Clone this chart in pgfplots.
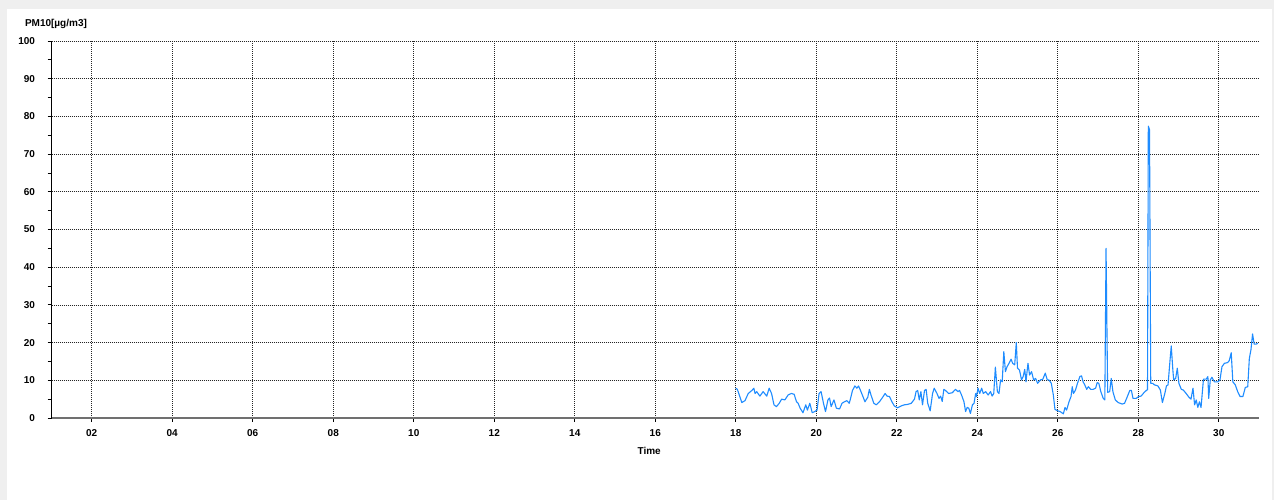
\documentclass[border=0pt]{standalone}
\usepackage{fontspec}
\setmainfont{Liberation Sans}
\usepackage{pgfplots}
\pgfplotsset{compat=1.18}
\definecolor{pmblue}{HTML}{1E8CFF}
\definecolor{axgray}{HTML}{707070}
\definecolor{bggray}{HTML}{EFEFEF}
\begin{document}
\begin{tikzpicture}[x=1pt,y=1pt]
\useasboundingbox (0,0) rectangle (1274,500);
\fill[bggray] (0,0) rectangle (1274,500);
\fill[white] (7,0) rectangle (1272,491);
\begin{axis}[
  at={(51.5pt,82pt)}, anchor=south west,
  scale only axis, width=1207.5pt, height=377pt,
  xmin=1, xmax=31, ymin=0, ymax=100,
  axis lines=left,
  axis line style={-},
  x axis line style={axgray, line width=2.6pt},
  y axis line style={black, line width=1pt},
  xtick={2,4,...,30},
  xticklabels={02,04,06,08,10,12,14,16,18,20,22,24,26,28,30},
  ytick={0,10,...,100},
  minor ytick={5,15,...,95},
  tick align=outside,
  major tick length=4pt,
  minor tick length=4pt,
  tick style={black, line width=0.8pt},
  grid=major,
  grid style={black!85, dash pattern=on 1pt off 1pt, line width=0.7pt},
  /pgf/number format/assume math mode=true,
  tick label style={font=\bfseries\fontsize{10}{12}\selectfont},
  yticklabel style={xshift=-9pt},
  xticklabel style={yshift=-4pt},
  xlabel={Time},
  ylabel={PM10[µg/m3]},
  every axis x label/.style={at={(axis description cs:0.495,0)}, anchor=center, yshift=-33pt, font=\bfseries\fontsize{10}{12}\selectfont},
  every axis y label/.style={at={(axis description cs:0,1)}, anchor=west, xshift=-30pt, yshift=17.5pt, font=\bfseries\fontsize{10}{12}\selectfont},
]
\addplot[pmblue, line width=1.1pt, line join=round] coordinates {
(18.00,7.9) (18.04,7.6) (18.15,4.1) (18.23,4.6) (18.31,6.5) (18.40,7.3) (18.45,7.9) (18.48,6.5) (18.52,7.0) (18.60,5.8)
(18.68,7.0) (18.77,5.8) (18.83,7.9) (18.89,6.5) (18.95,3.5) (19.01,3.0) (19.08,3.9) (19.14,5.0) (19.22,4.8) (19.30,6.1)
(19.38,6.5) (19.45,6.3) (19.51,4.3) (19.55,3.9) (19.60,2.6) (19.67,1.4) (19.74,3.5) (19.78,2.1) (19.84,3.9) (19.90,1.4)
(19.96,1.7) (20.02,2.1) (20.07,6.5) (20.12,7.0) (20.18,3.9) (20.23,1.7) (20.29,4.8) (20.33,5.3) (20.37,3.0) (20.44,4.8)
(20.50,2.6) (20.58,2.4) (20.64,3.9) (20.70,4.3) (20.76,4.6) (20.82,3.9) (20.86,5.5) (20.90,7.3) (20.96,8.5) (21.01,7.9)
(21.05,8.5) (21.10,7.3) (21.16,5.7) (21.21,4.3) (21.28,5.5) (21.32,7.6) (21.36,6.1) (21.43,3.9) (21.49,3.5) (21.57,4.3)
(21.65,5.5) (21.71,6.5) (21.76,5.8) (21.82,5.7) (21.88,4.3) (21.94,3.2) (22.02,2.7) (22.11,3.2) (22.19,3.5) (22.27,3.6)
(22.36,3.9) (22.44,5.0) (22.48,7.0) (22.52,7.3) (22.56,4.8) (22.60,7.0) (22.64,3.5) (22.69,7.3) (22.73,7.6) (22.77,3.9)
(22.83,1.9) (22.89,6.5) (22.93,7.9) (23.00,6.5) (23.05,5.2) (23.09,5.8) (23.13,4.4) (23.17,7.6) (23.21,7.3) (23.29,6.5)
(23.38,6.7) (23.46,7.6) (23.52,7.0) (23.56,7.3) (23.61,6.1) (23.67,4.3) (23.71,1.7) (23.75,2.8) (23.79,2.6) (23.83,1.2)
(23.88,3.5) (23.92,3.9) (23.96,6.5) (23.98,5.7) (24.02,7.9) (24.06,6.5) (24.11,7.9) (24.15,6.5) (24.21,7.0) (24.27,6.1)
(24.33,7.0) (24.37,5.8) (24.41,6.5) (24.45,13.5) (24.50,7.0) (24.54,6.5) (24.58,10.1) (24.62,9.6) (24.66,17.6) (24.70,12.3)
(24.74,13.6) (24.79,14.5) (24.84,15.6) (24.88,14.5) (24.93,14.1) (24.97,20.0) (25.00,13.2) (25.05,12.7) (25.10,10.1) (25.14,11.0)
(25.18,12.9) (25.21,9.6) (25.26,14.5) (25.30,11.4) (25.35,12.3) (25.40,10.1) (25.45,10.5) (25.50,9.2) (25.57,10.1) (25.63,10.3)
(25.69,11.9) (25.74,10.1) (25.78,10.1) (25.84,9.2) (25.89,6.1) (25.93,2.3) (26.00,1.9) (26.06,1.7) (26.14,1.1) (26.18,2.8)
(26.22,2.1) (26.28,4.3) (26.33,5.7) (26.36,8.3) (26.39,6.5) (26.44,7.4) (26.49,9.2) (26.55,11.0) (26.59,11.2) (26.63,9.6)
(26.67,8.8) (26.72,7.6) (26.76,8.3) (26.82,7.6) (26.88,7.6) (26.94,7.9) (26.98,9.4) (27.02,9.2) (27.07,7.0) (27.13,5.2)
(27.17,4.8) (27.20,45.0) (27.24,6.8) (27.29,7.0) (27.33,10.5) (27.37,7.0) (27.43,4.8) (27.50,4.1) (27.60,3.7) (27.66,3.9)
(27.73,5.7) (27.79,7.3) (27.83,7.3) (27.87,5.2) (27.95,5.2) (28.01,5.7) (28.07,5.8) (28.14,6.7) (28.20,7.3) (28.23,7.5)
(28.25,77.4) (28.28,76.5) (28.31,9.2) (28.36,9.2) (28.40,8.8) (28.49,8.5) (28.55,7.4) (28.60,4.1) (28.66,6.5) (28.70,8.5) (28.74,8.8)
(28.79,15.4) (28.82,19.1) (28.86,12.7) (28.88,10.1) (28.93,10.5) (28.97,13.2) (29.01,9.2) (29.07,7.6) (29.12,7.4) (29.19,6.5)
(29.26,5.5) (29.31,5.0) (29.36,7.9) (29.40,3.5) (29.44,4.8) (29.48,2.8) (29.52,4.3) (29.56,2.8) (29.62,10.3) (29.69,10.3)
(29.73,11.0) (29.75,5.2) (29.79,10.1) (29.83,10.8) (29.89,9.6) (29.98,9.6) (30.03,10.1) (30.08,13.6) (30.14,14.5) (30.22,14.7)
(30.26,15.2) (30.31,17.3) (30.35,9.6) (30.41,8.8) (30.47,7.0) (30.53,5.7) (30.60,5.7) (30.66,8.1) (30.72,8.3) (30.76,15.8)
(30.80,18.1) (30.84,22.3) (30.88,19.6) (30.93,19.6) (30.97,19.8)
};
\end{axis}
\end{tikzpicture}
\end{document}
